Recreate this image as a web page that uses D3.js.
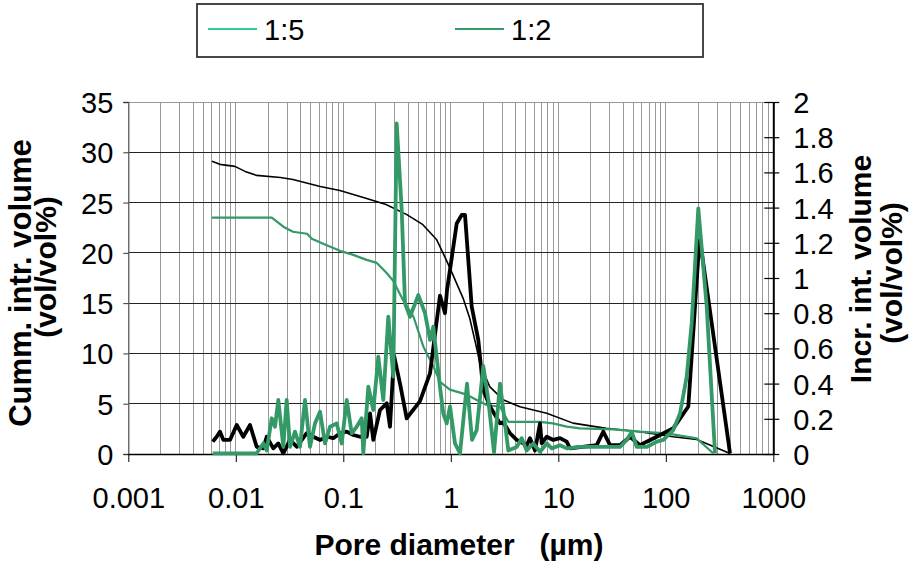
<!DOCTYPE html>
<html><head><meta charset="utf-8">
<script src="https://cdn.jsdelivr.net/npm/d3@7"></script>
<style>
html,body{margin:0;padding:0;background:#fff;}
svg{display:block;font-family:"Liberation Sans",Arial,sans-serif;}
</style></head>
<body>
<svg id="chart" width="911" height="563"></svg>
<script>
// ---------- data ----------
const seriesNames = ["1:5", "1:2"];
const legendColors = ["#33CC99", "#339966"];

const xTickValues = [0.001, 0.01, 0.1, 1, 10, 100, 1000];
const xTickLabels = ["0.001", "0.01", "0.1", "1", "10", "100", "1000"];
const leftTickValues = [0, 5, 10, 15, 20, 25, 30, 35];
const rightTickValues = [0, 0.2, 0.4, 0.6, 0.8, 1, 1.2, 1.4, 1.6, 1.8, 2];
const rightTickLabels = ["0", "0.2", "0.4", "0.6", "0.8", "1", "1.2", "1.4", "1.6", "1.8", "2"];

// cumulative intruded volume (left axis)
const diamBlackCum = [0.006,0.0071,0.0098,0.0122,0.0156,0.026,0.034,0.061,0.093,0.165,0.25,0.39,0.55,0.74,0.88,0.98,1.3,1.5,1.7,1.87,2.3,3.06,4.4,7.8,13.7,28,57,117,194,396];
const volBlackCum  = [29.1,28.8,28.6,28.1,27.7,27.5,27.3,26.6,26.2,25.4,24.8,23.8,22.8,21.3,19.6,18.5,15.5,13.5,11.0,9.0,6.7,5.4,4.7,4.05,3.07,2.55,2.22,1.72,1.45,0.05];

const diamGreenCum = [0.006,0.0216,0.0277,0.034,0.046,0.051,0.065,0.093,0.124,0.165,0.205,0.253,0.292,0.36,0.45,0.555,0.69,0.79,0.98,1.41,1.87,2.16,2.87,3.43,6.76,8.9,12,15.9,32.5,57.5,102,194,277];
const volGreenCum  = [23.5,23.5,22.6,22.1,21.9,21.4,20.9,20.2,19.8,19.3,19.0,18.0,17.2,15.3,13.65,10.7,8.7,7.2,6.4,5.9,5.2,4.87,4.7,3.2,3.2,3.05,2.72,2.55,2.45,2.22,2.05,1.55,0.05];

// incremental intruded volume (right axis)
const diamBlackInc = [0.0061,0.00664,0.00713,0.00765,0.00883,0.0102,0.01174,0.01356,0.01564,0.01803,0.01939,0.02233,0.02485,0.02766,0.03193,0.03686,0.04566,0.0526,0.06072,0.07011,0.08072,0.09318,0.1076,0.1239,0.143,0.1651,0.1772,0.1902,0.2195,0.2533,0.2719,0.2962,0.3369,0.3889,0.5169,0.6406,0.7934,0.8831,0.922,1.135,1.263,1.356,1.565,1.802,2.006,2.316,2.869,3.079,3.554,4.102,5.082,5.455,6.072,6.76,7.011,7.802,8.985,10.37,11.97,12.85,22.76,26.22,30.27,37.5,46.45,57.54,66.43,82.31,117.4,162.0,200.6,208.0,395.6];
const volBlackInc  = [0.07,0.098,0.127,0.08,0.08,0.165,0.098,0.165,0.041,0.032,0.098,0.032,0.06,0.004,0.08,0.041,0.118,0.098,0.08,0.098,0.09,0.118,0.127,0.108,0.098,0.098,0.231,0.08,0.25,0.288,0.155,0.56,0.40,0.203,0.3,0.458,0.90,0.80,0.93,1.31,1.358,1.358,0.837,0.648,0.364,0.27,0.174,0.18,0.118,0.08,0.05,0.09,0.02,0.174,0.06,0.098,0.08,0.09,0.07,0.032,0.05,0.127,0.05,0.05,0.098,0.05,0.07,0.098,0.146,0.27,1.12,1.216,0.004];

const diamGreenInc = [0.0061,0.01564,0.01803,0.01939,0.02158,0.02316,0.02485,0.02766,0.02974,0.03193,0.03554,0.03956,0.04403,0.04899,0.05455,0.06072,0.0676,0.07521,0.08682,0.09663,0.1076,0.1197,0.1333,0.1484,0.1535,0.1709,0.1902,0.2117,0.2356,0.2622,0.2918,0.3138,0.3494,0.375,0.4174,0.4986,0.5754,0.6406,0.6875,0.7934,0.8515,0.9161,0.9831,1.094,1.218,1.415,1.575,1.741,2.006,2.233,2.523,2.869,3.193,3.427,4.102,4.565,5.082,5.854,6.76,7.802,8.682,10.37,11.97,15.92,24.43,37.5,43.29,48.17,53.62,66.43,82.31,94.78,117.4,135.6,156.5,174.1,200.6,240.2,287.0];
const volGreenInc  = [0.004,0.004,0.06,0.02,0.203,0.155,0.307,0.041,0.307,0.041,0.127,0.041,0.307,0.041,0.174,0.24,0.06,0.155,0.174,0.06,0.307,0.118,0.155,0.203,0.004,0.382,0.25,0.553,0.307,0.78,0.44,1.879,1.386,0.856,0.78,0.903,0.80,0.648,0.723,0.38,0.23,0.174,0.27,0.06,0.004,0.40,0.08,0.136,0.5,0.307,0.01,0.40,0.174,0.02,0.04,0.09,0.02,0.06,0.013,0.06,0.032,0.05,0.032,0.04,0.04,0.04,0.08,0.127,0.04,0.04,0.07,0.08,0.136,0.23,0.44,0.743,1.396,0.837,0.004];

// ---------- layout ----------
const svg = d3.select("#chart");
const L = 128.3, R = 773.3, T = 102, B = 454;
const tickFont = 29;
const x = d3.scaleLog().domain([0.001, 1000]).range([L, R]);
const yL = d3.scaleLinear().domain([0, 35]).range([B, T]);
const yR = d3.scaleLinear().domain([0, 2]).range([B, T]);

// vertical gridlines
const g = svg.append("g").attr("shape-rendering", "crispEdges");
g.selectAll("line.vg").data(x.ticks()).enter().append("line")
  .attr("x1", d => x(d)).attr("x2", d => x(d))
  .attr("y1", T).attr("y2", B)
  .attr("stroke", "#9a9a9a").attr("stroke-width", 1);
// horizontal gridlines
g.selectAll("line.hg").data(leftTickValues.filter(v => v > 0)).enter().append("line")
  .attr("x1", L).attr("x2", R)
  .attr("y1", d => yL(d)).attr("y2", d => yL(d))
  .attr("stroke", d => d === 35 ? "#999" : "#222").attr("stroke-width", 1);

// axes
const axL = svg.append("g").attr("transform", `translate(${L},0)`)
  .call(d3.axisLeft(yL).tickValues(leftTickValues).tickSize(5).tickFormat(d3.format("d")));
axL.select(".domain").attr("stroke", "#666").attr("stroke-width", 1.3);
axL.selectAll(".tick line").attr("stroke", "#333");
axL.selectAll("text").attr("font-size", tickFont).attr("fill", "#000").attr("x", -15).attr("dy", "0.36em");

const axR = svg.append("g").attr("transform", `translate(${R},0)`)
  .call(d3.axisRight(yR).tickValues(rightTickValues).tickSizeInner(6).tickSizeOuter(0)
    .tickFormat((d, i) => rightTickLabels[i]));
axR.select(".domain").attr("stroke", "#000").attr("stroke-width", 2);
axR.selectAll(".tick line").attr("x1", -9).attr("x2", 6).attr("stroke", "#000").attr("stroke-width", 1.2);
axR.selectAll("text").attr("font-size", tickFont).attr("fill", "#000").attr("x", 20).attr("dy", "0.36em");

const axB = svg.append("g").attr("transform", `translate(0,${B})`)
  .call(d3.axisBottom(x).tickValues(xTickValues).tickSize(8).tickSizeOuter(0)
    .tickFormat((d, i) => xTickLabels[i]));
axB.select(".domain").attr("stroke", "#000").attr("stroke-width", 1.3);
axB.selectAll(".tick line").attr("stroke", "#000");
axB.selectAll("text").attr("font-size", tickFont).attr("fill", "#000").attr("y", 54).attr("dy", 0);

// lines
const cumBlack = diamBlackCum.map((d, i) => [d, volBlackCum[i]]);
const cumGreen = diamGreenCum.map((d, i) => [d, volGreenCum[i]]);
const incBlack = diamBlackInc.map((d, i) => [d, volBlackInc[i]]);
const incGreen = diamGreenInc.map((d, i) => [d, volGreenInc[i]]);
const lineL = d3.line().x(d => x(d[0])).y(d => yL(d[1]));
const lineR = d3.line().x(d => x(d[0])).y(d => yR(d[1]));

svg.append("path").datum(cumBlack).attr("d", lineL).attr("fill", "none")
  .attr("stroke", "#000").attr("stroke-width", 1.6).attr("stroke-linejoin", "round");
svg.append("path").datum(cumGreen).attr("d", lineL).attr("fill", "none")
  .attr("stroke", legendColors[1]).attr("stroke-width", 2.2).attr("stroke-linejoin", "round");
svg.append("path").datum(incBlack).attr("d", lineR).attr("fill", "none")
  .attr("stroke", "#000").attr("stroke-width", 3.8).attr("stroke-linejoin", "round");
svg.append("path").datum(incGreen).attr("d", lineR).attr("fill", "none")
  .attr("stroke", legendColors[1]).attr("stroke-width", 3.8).attr("stroke-linejoin", "round");

// axis titles
svg.append("text").attr("transform", "translate(31,283) rotate(-90)")
  .attr("text-anchor", "middle").attr("font-size", 31).attr("font-weight", "bold").text("Cumm. intr. volume");
svg.append("text").attr("transform", "translate(56,267) rotate(-90)")
  .attr("text-anchor", "middle").attr("font-size", 30).attr("font-weight", "bold").text("(vol/vol%)");
svg.append("text").attr("transform", "translate(871,269) rotate(-90)")
  .attr("text-anchor", "middle").attr("font-size", 30).attr("font-weight", "bold").text("Incr. int. volume");
svg.append("text").attr("transform", "translate(902,273) rotate(-90)")
  .attr("text-anchor", "middle").attr("font-size", 30).attr("font-weight", "bold").text("(vol/vol%)");
svg.append("text").attr("x", 459).attr("y", 555)
  .attr("text-anchor", "middle").attr("font-size", 30).attr("font-weight", "bold")
  .attr("xml:space", "preserve").style("white-space", "pre").text("Pore diameter   (µm)");

// legend
const lg = svg.append("g");
lg.append("rect").attr("x", 197).attr("y", 4).attr("width", 506).attr("height", 53)
  .attr("fill", "#fff").attr("stroke", "#333").attr("stroke-width", 1.8);
const legX = [208, 455];
seriesNames.forEach((n, i) => {
  lg.append("line").attr("x1", legX[i]).attr("x2", legX[i] + 49).attr("y1", 29).attr("y2", 29)
    .attr("stroke", legendColors[i]).attr("stroke-width", 2);
  lg.append("text").attr("x", legX[i] + 56).attr("y", 40).attr("font-size", tickFont).text(n);
});
</script>
</body></html>
